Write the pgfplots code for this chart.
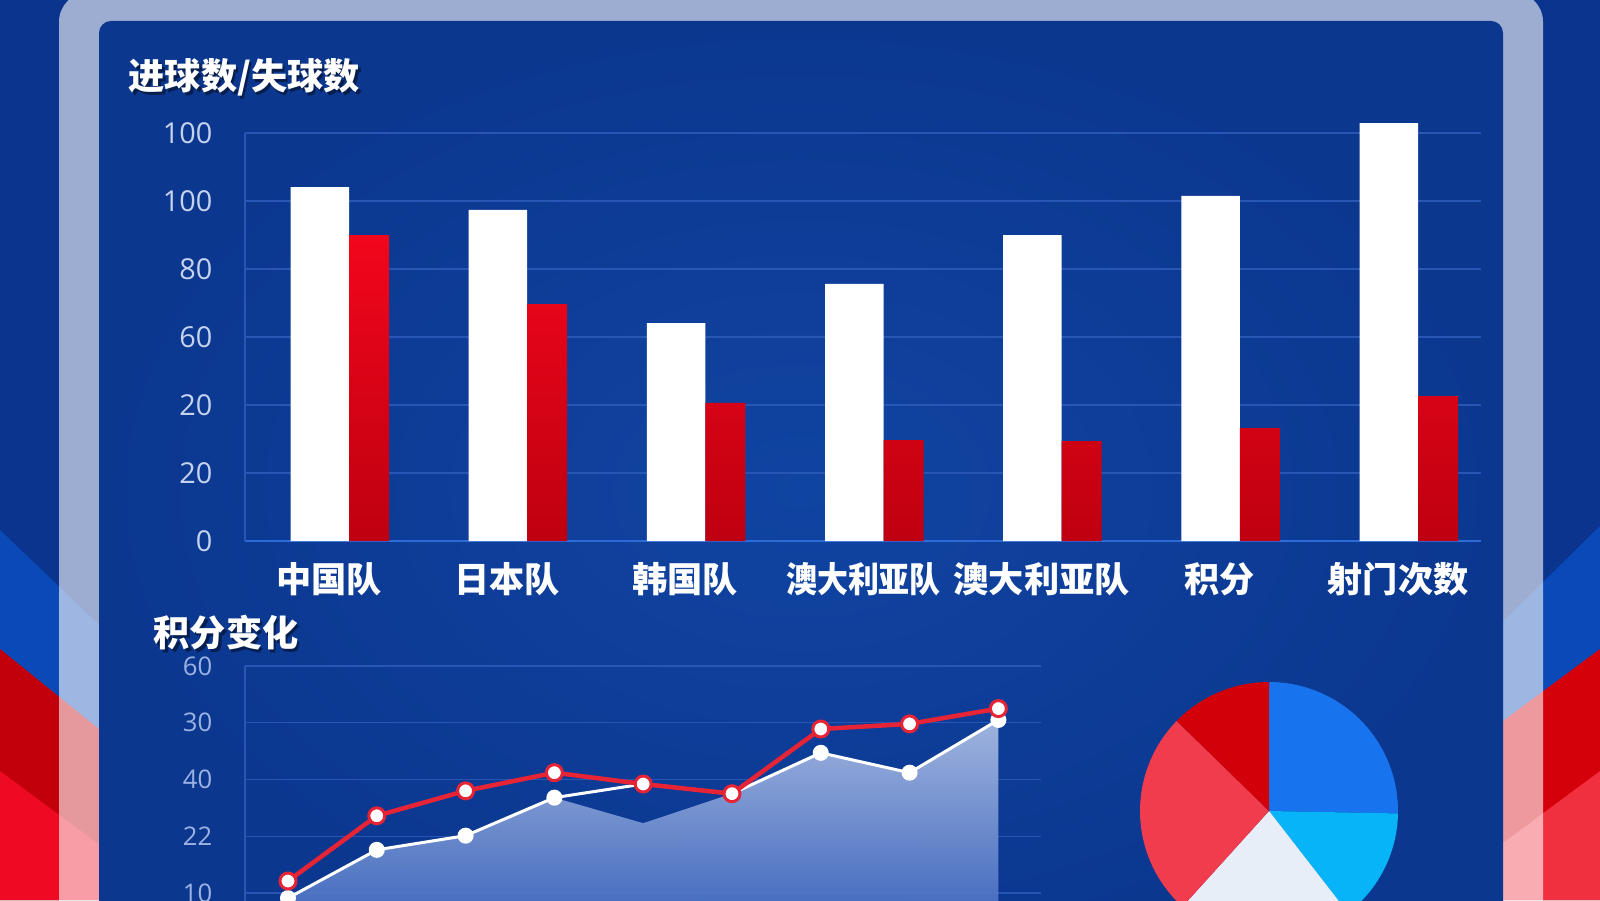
\documentclass[border=0pt]{standalone}
\usepackage{fontspec}
\setmainfont{Open Sans}
\newfontfamily\cjk{Noto Sans CJK SC}
\usepackage{pgfplots}
\pgfplotsset{compat=1.18}

\definecolor{bgblue}{HTML}{0A348E}
\definecolor{stripeblue}{HTML}{0A4AB8}
\definecolor{stripedred}{HTML}{C2000C}
\definecolor{stripered}{HTML}{EE0A22}
\definecolor{stripedredR}{HTML}{D4000A}
\definecolor{striperedR}{HTML}{F0303E}
\definecolor{panelin}{HTML}{1044A2}
\definecolor{panelout}{HTML}{0B378F}
\definecolor{gridblue}{HTML}{2856B4}
\definecolor{axisblue}{HTML}{2C6AD8}
\definecolor{ticklab}{HTML}{C5D2EE}
\definecolor{ticklabB}{HTML}{9CB2E2}
\definecolor{redline}{HTML}{E62436}
\definecolor{redtop}{HTML}{F2061C}
\definecolor{redbot}{HTML}{BE0010}
\definecolor{areatop}{HTML}{A8BAE2}
\definecolor{areabot}{HTML}{3560BC}
\definecolor{pieblue}{HTML}{1874EE}
\definecolor{pielblue}{HTML}{08B4F8}
\definecolor{piewhite}{HTML}{E8EEF8}
\definecolor{pielred}{HTML}{F03C4C}
\definecolor{piedred}{HTML}{D20008}

\begin{document}
\begin{tikzpicture}
\useasboundingbox (0,0) rectangle (160mm,90mm);
\clip (0,0) rectangle (160mm,90mm);
\begin{scope}[x=0.1mm,y=0.1mm]
  \fill[bgblue] (0,0) rectangle (1600,900);
  % left stripes
  \fill[stripeblue] (0,370) -- (120,255) -- (120,0) -- (0,0) -- cycle;
  \fill[stripedred] (0,251) -- (120,154) -- (120,0) -- (0,0) -- cycle;
  \fill[stripered] (0,129) -- (120,40) -- (120,0) -- (0,0) -- cycle;
  % right stripes
  \fill[stripeblue] (1600,374) -- (1480,256) -- (1480,0) -- (1600,0) -- cycle;
  \fill[stripedredR] (1600,251) -- (1480,162) -- (1480,0) -- (1600,0) -- cycle;
  \fill[striperedR] (1600,129) -- (1480,40) -- (1480,0) -- (1600,0) -- cycle;
  % frame
  \fill[white, opacity=0.6, rounded corners=3mm] (59,-60) rectangle (1543,908);
  % panel
  \shade[inner color=panelin, outer color=panelout, rounded corners=1.2mm] (99,-60) rectangle (1503,879);
\end{scope}

% titles
\node[anchor=west, inner sep=0pt, text=black, opacity=0.45] at (13.05mm,82.0mm) {\cjk\bfseries\fontsize{10.3}{12}\selectfont 进球数/失球数};
\node[anchor=west, inner sep=0pt, text=white] at (12.8mm,82.3mm) {\cjk\bfseries\fontsize{10.3}{12}\selectfont 进球数/失球数};
\node[anchor=west, inner sep=0pt, text=black, opacity=0.45] at (15.55mm,26.4mm) {\cjk\bfseries\fontsize{10.3}{12}\selectfont 积分变化};
\node[anchor=west, inner sep=0pt, text=white] at (15.3mm,26.7mm) {\cjk\bfseries\fontsize{10.3}{12}\selectfont 积分变化};

% bar chart
\begin{axis}[
  at={(24.5mm,35.9mm)}, anchor=south west,
  scale only axis, width=123.6mm, height=40.8mm,
  xmin=-0.5837, xmax=6.3535, ymin=0, ymax=120,
  clip=false,
  axis x line*=bottom, axis y line*=left,
  x axis line style={draw=axisblue, line width=0.25mm, -},
  y axis line style={draw=gridblue, line width=0.15mm, -},
  major tick length=0pt,
  xtick={0,...,6},
  xticklabels={中国队,日本队,韩国队,\scalebox{0.88}[1]{澳大利亚队},澳大利亚队,积分,射门次数},
  ytick={0,20,...,120},
  yticklabels={0,20,20,60,80,100,100},
  ymajorgrids, grid style={draw=gridblue, line width=0.12mm},
  yticklabel style={anchor=east, inner sep=0pt, xshift=-3.2mm, text=ticklab, font=\fontsize{8.2}{10}\selectfont},
  xticklabel style={anchor=center, inner sep=0pt, yshift=-3.8mm, xshift=-2mm, text=white, font=\cjk\bfseries\fontsize{10}{12}\selectfont},
  /pgf/number format/assume math mode=true,
]
\addplot[ybar, bar width=5.85mm, bar shift=-2.925mm, fill=white, draw=none]
  coordinates {(0,104.1) (1,97.4) (2,64.1) (3,75.6) (4,90.0) (5,101.5) (6,122.9)};
\addplot[ybar, bar width=4mm, bar shift=2mm, draw=none, top color=redtop, bottom color=redbot]
  coordinates {(0,90.0) (1,69.7) (2,40.6) (3,29.7) (4,29.4) (5,33.2) (6,42.6)};
\end{axis}

% line chart
\begin{axis}[
  at={(24.5mm,-4.97mm)}, anchor=south west,
  scale only axis, width=79.6mm, height=28.37mm,
  xmin=0.516, xmax=9.48, ymin=0, ymax=50,
  clip=false,
  axis x line*=bottom, axis y line*=left,
  x axis line style={draw=none},
  y axis line style={draw=gridblue, line width=0.15mm, -},
  major tick length=0pt,
  xtick=\empty,
  ytick={10,20,30,40,50},
  yticklabels={10,22,40,30,60},
  ymajorgrids, grid style={draw=gridblue, line width=0.12mm},
  yticklabel style={anchor=east, inner sep=0pt, xshift=-3.2mm, text=ticklabB, font=\fontsize{7.3}{8}\selectfont},
]
\addplot[draw=none, top color=areatop, bottom color=areabot, fill opacity=0.95]
  coordinates {(1,9.1) (2,17.6) (3,20.1) (4,26.8) (5,22.3) (6,27.5) (7,34.7) (8,31.2) (9,40.5)} \closedcycle;
\addplot[white, line width=0.3mm, mark=*, mark size=0.65mm, mark options={fill=white, draw=white}]
  coordinates {(1,9.1) (2,17.6) (3,20.1) (4,26.8) (5,29.2) (6,27.5) (7,34.7) (8,31.2) (9,40.5)};
\addplot[redline, line width=0.45mm, mark=*, mark size=0.8mm, mark options={fill=white, draw=redline, line width=0.3mm}]
  coordinates {(1,12.1) (2,23.6) (3,28.0) (4,31.2) (5,29.2) (6,27.5) (7,38.9) (8,39.8) (9,42.5)};
\end{axis}

% pie chart
\begin{axis}[
  at={(126.9mm,8.9mm)}, anchor=center,
  scale only axis, width=25.8mm, height=25.8mm,
  xmin=-1, xmax=1, ymin=-1, ymax=1,
  hide axis, clip=false,
]
\def\angA{90}
\foreach \val/\col in {25.3/pieblue, 14.2/pielblue, 22.2/piewhite, 25.6/pielred, 12.7/piedred} {
  \pgfmathsetmacro\angB{\angA-3.6*\val}
  \edef\temp{\noexpand\fill[\col] (axis cs:0,0) -- (axis cs:{cos(\angA)},{sin(\angA)}) arc[start angle=\angA, end angle=\angB, radius=12.9mm] -- cycle;}
  \temp
  \global\let\angA\angB
}
\end{axis}
\end{tikzpicture}
\end{document}
